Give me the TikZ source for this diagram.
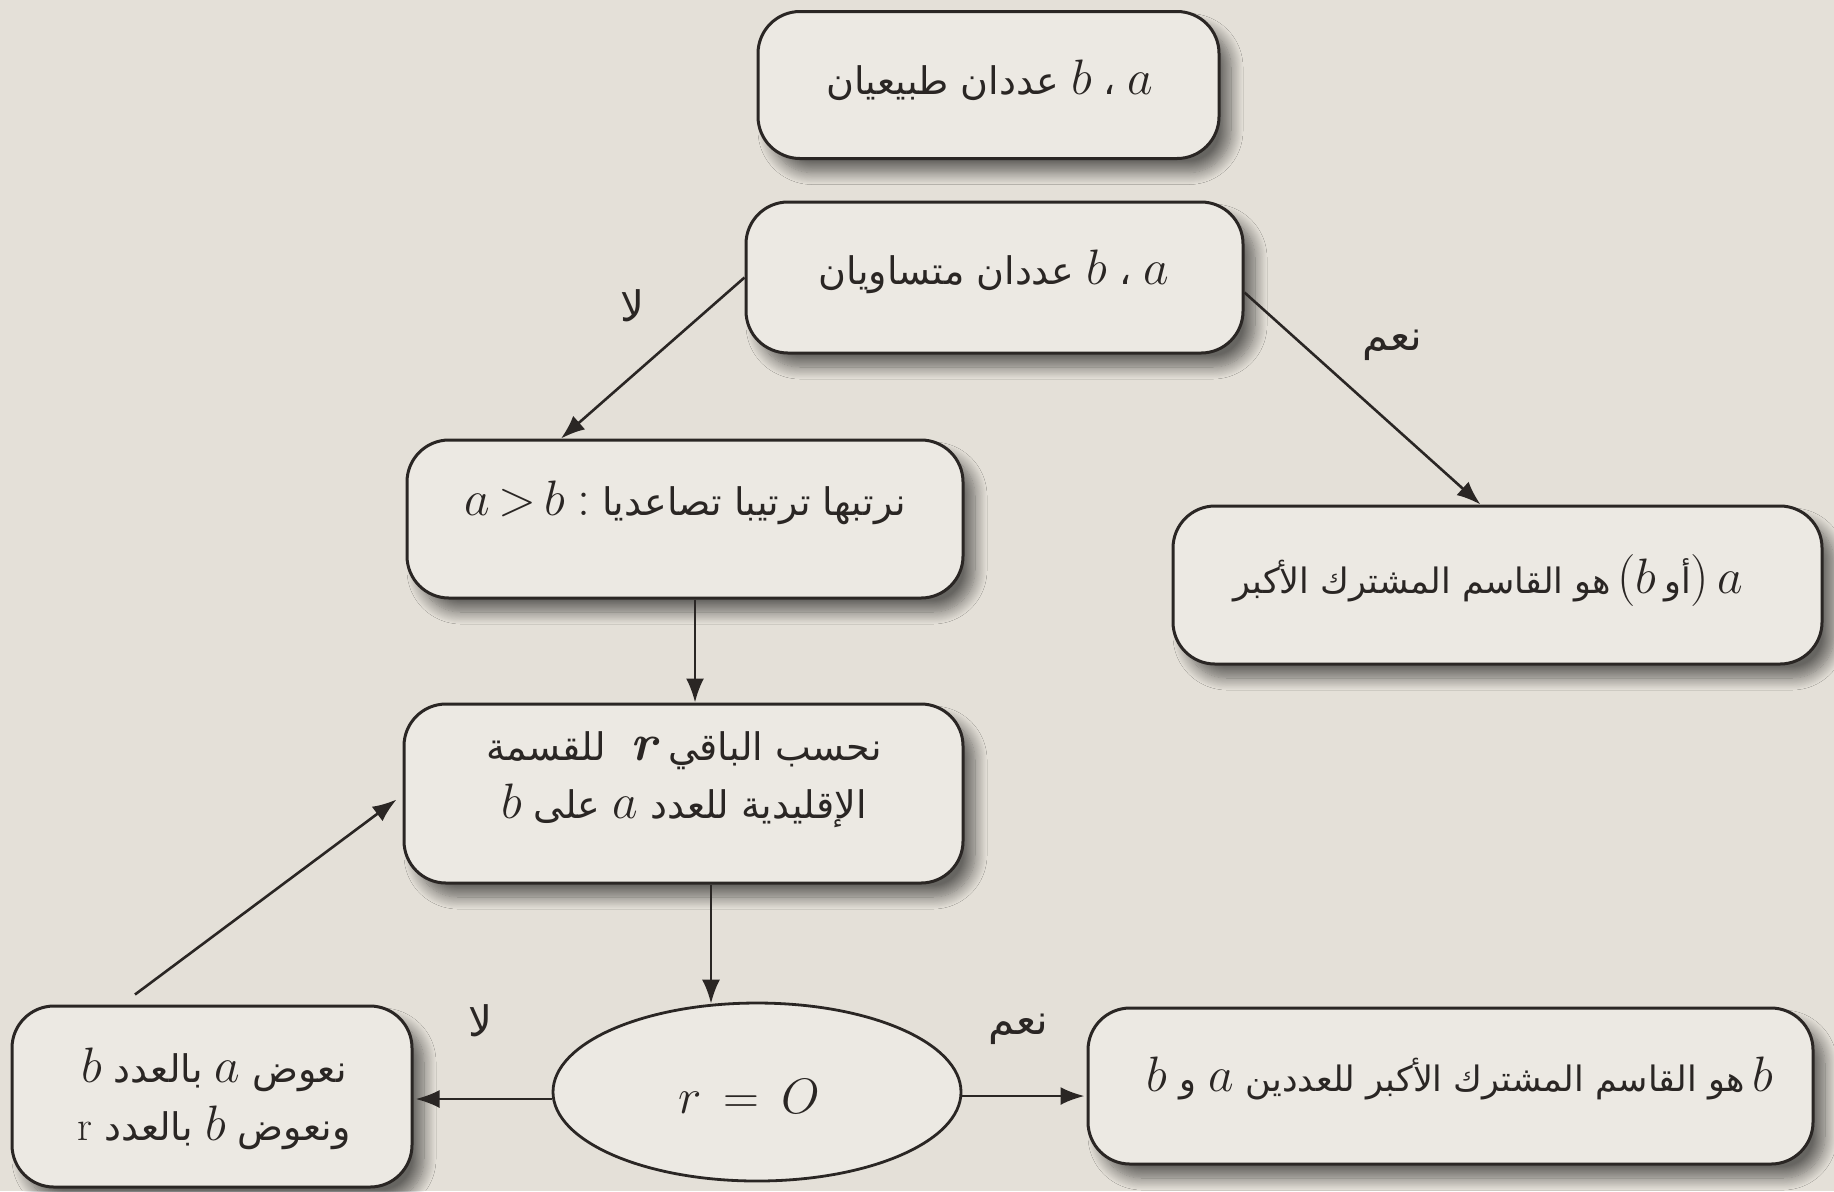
\documentclass[tikz,border=0pt]{standalone}
\usepackage{fontspec}
\newfontfamily\arabicfont[Script=Arabic]{DejaVu Sans}
\TeXXeTstate=1
\usetikzlibrary{shapes.geometric,arrows.meta,calc,shadows.blur}
\newcommand\artxt[1]{{\fontsize{19}{24}\selectfont\arabicfont\beginR #1\endR}}
\newcommand\artxs[1]{{\fontsize{17.5}{22}\selectfont\arabicfont\beginR #1\endR}}
\newcommand\arlbl[1]{{\fontsize{21}{24}\selectfont\arabicfont\beginR #1\endR}}
\newcommand\mth[1]{{\fontsize{26}{30}\selectfont$#1$}}
\newcommand\bigpar[1]{{\fontsize{26}{30}\selectfont #1}}
\newcommand\gp{\hspace{6pt}}
\definecolor{bgcol}{HTML}{E4E0D8}
\definecolor{boxcol}{HTML}{ECE9E3}
\definecolor{inkcol}{HTML}{2A2624}
\tikzset{
  boxnode/.style={draw=inkcol, line width=1.5pt, fill=boxcol, rounded corners=21pt,
    blur shadow={shadow xshift=6pt, shadow yshift=-7pt, shadow blur steps=14, shadow blur radius=6pt, shadow opacity=55}},
  ellnode/.style={ellipse, draw=inkcol, line width=1.4pt, fill=boxcol},
  txt/.style={text=inkcol, align=center, inner sep=0pt},
  conn/.style={draw=inkcol, line width=1.3pt, -{Latex[length=12pt,width=9pt]}},
}
\begin{document}
\begin{tikzpicture}[x=0.5pt,y=-0.5pt]
\fill[bgcol] (0,0) rectangle (1834,1191);
\useasboundingbox (0,0) rectangle (1834,1191);

% boxes
\node[boxnode, minimum width=230.5pt, minimum height=73.5pt] (b1) at (988.5,85) {};
\node[boxnode, minimum width=248.5pt, minimum height=75.5pt] (b2) at (994.5,277.5) {};
\node[boxnode, minimum width=278pt, minimum height=79pt] (b3) at (685,519) {};
\node[boxnode, minimum width=324.5pt, minimum height=79pt] (b4) at (1497.5,585) {};
\node[boxnode, minimum width=279.5pt, minimum height=89.5pt] (b5) at (683.5,793.5) {};
\node[boxnode, minimum width=200pt, minimum height=90.5pt] (b6) at (212,1096.5) {};
\node[boxnode, minimum width=362.5pt, minimum height=78pt] (b7) at (1450.5,1086) {};
\node[ellnode, minimum width=204pt, minimum height=89pt] (el) at (757,1092) {};

% texts
\node[txt] (t1) at (990,80) {\artxt{عددان طبيعيان}\gp\mth{b}\gp\artxt{،}\gp\mth{a}};
\node[txt] (t2) at (994,272) {\artxt{عددان متساويان}\gp\mth{b}\gp\artxt{،}\gp\mth{a}};
\node[txt] (t3) at (685,503) {\mth{a\,{>}\,b}\gp\bigpar{:}\gp\artxt{نرتبها ترتيبا تصاعديا}};
\node[txt] (t4) at (1488,581) {\artxs{هو القاسم المشترك الأكبر}\hspace{3pt}\bigpar{(}\mth{b}\hspace{4pt}\artxs{أو}\bigpar{)}\hspace{4pt}\mth{a}};
\node[txt] (t5) at (684,780) {\artxt{للقسمة}\gp\gp{\fontsize{26}{30}\selectfont\bfseries\itshape r}\gp\artxt{نحسب الباقي}\\[6pt]
  \mth{b}\gp\artxt{على}\gp\mth{a}\gp\artxt{الإقليدية للعدد}};
\node[txt] (t6) at (214,1099) {\mth{b}\gp\artxt{بالعدد}\gp\mth{a}\gp\artxt{نعوض}\\[6pt]
  {\fontsize{21}{24}\selectfont r}\gp\artxt{بالعدد}\gp\mth{b}\gp\artxt{ونعوض}};
\node[txt] (t7) at (1460,1078) {\mth{b}\gp\artxs{و}\gp\mth{a}\gp\artxs{هو القاسم المشترك الأكبر للعددين}\hspace{4pt}\mth{b}};
\node[txt] (t8) at (749,1096) {\mth{r\,=\,O}};

% labels
\node[txt] (l1) at (632,306) {\arlbl{لا}};
\node[txt] (l2) at (1392,345) {\arlbl{نعم}};
\node[txt] (l3) at (480,1021) {\arlbl{لا}};
\node[txt] (l4) at (1018,1029) {\arlbl{نعم}};

% connectors
\draw[conn] (b2.west) -- ($(b3.north)+(-124,0)$);
\draw[conn] ($(b2.east)+(0,15)$) -- ($(b4.north)+(-17,0)$);
\coordinate (c1) at ($(b3.south)+(10,0)$);
\draw[conn] (c1) -- (c1 |- b5.north);
\coordinate (c2) at ($(b5.south)+(27.5,0)$);
\draw[conn] (c2) -- ($(c2 |- el.north)+(0,2)$);
\draw[conn] ($(el.west)+(0,7)$) -- ($(el.west -| b6.east)+(2,7)$);
\draw[conn] ($(el.east)+(0,4)$) -- ($(el.east -| b7.west)+(-2,4)$);
\draw[conn] ($(b6.north)+(-77,-10)$) -- ($(b5.west)+(-6,6)$);
\end{tikzpicture}
\end{document}
